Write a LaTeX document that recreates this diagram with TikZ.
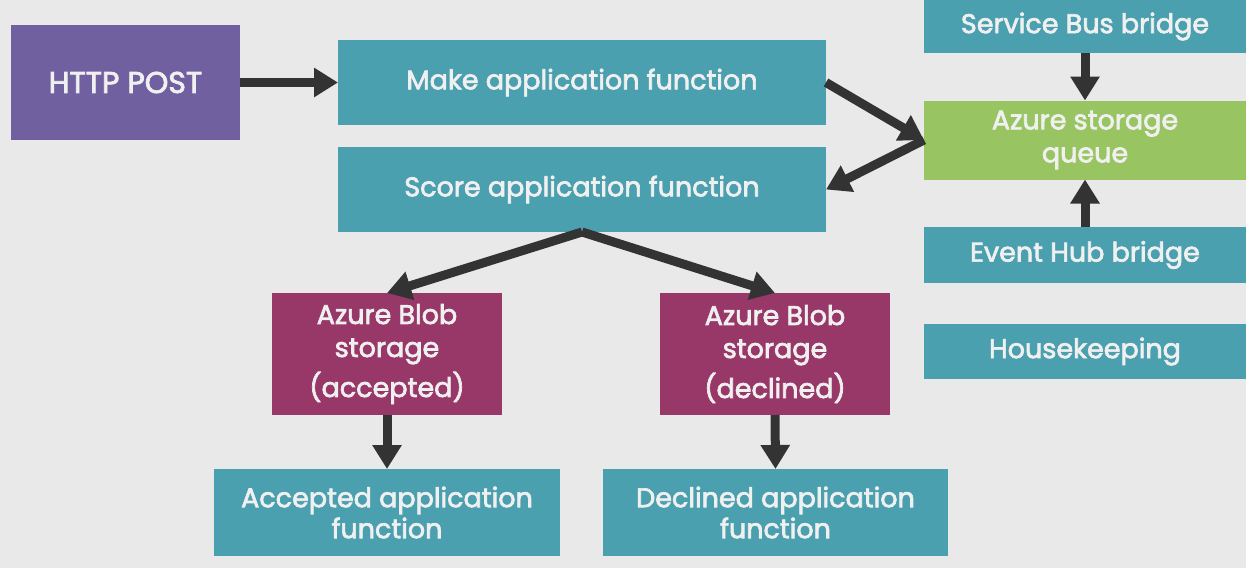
\documentclass[tikz,border=0pt]{standalone}
\usepackage{fontspec}
\setmainfont{Poppins}[FakeBold=2.5]
\usetikzlibrary{arrows.meta}
\definecolor{bg}{HTML}{E9E9E9}
\definecolor{teal}{HTML}{4AA0AF}
\definecolor{purp}{HTML}{7060A0}
\definecolor{mag}{HTML}{983868}
\definecolor{grn}{HTML}{98C462}
\definecolor{txt}{HTML}{F0F0F0}
\definecolor{arr}{HTML}{333333}
\tikzset{
  box/.style={rectangle, inner sep=0pt, outer sep=0pt, text=txt, align=center,
    font=\fontsize{27}{33}\selectfont},
  tealbox/.style={box, fill=teal},
  conn/.style={draw=arr, line width=9pt, -{Triangle[width=28pt,length=24pt]}},
}
\begin{document}
\begin{tikzpicture}[x=1pt,y=-1pt]
\fill[bg] (0,0) rectangle (1246,568);
\useasboundingbox (0,0) rectangle (1246,568);
\node[box, fill=purp, minimum width=229pt, minimum height=115pt, font=\fontsize{30}{33}\selectfont] (http) at (125.5,82.5) {HTTP POST};
\node[tealbox, minimum width=488pt, minimum height=85pt] (make) at (582,82.5) {Make application function};
\node[tealbox, minimum width=488pt, minimum height=85pt] (score) at (582,189.5) {Score application function};
\node[tealbox, minimum width=322pt, minimum height=53pt] (sb) at (1085,26.5) {Service Bus bridge};
\node[box, fill=grn, minimum width=322pt, minimum height=79pt] (queue) at (1085,140) {Azure storage\\queue};
\node[tealbox, minimum width=322pt, minimum height=56pt] (eh) at (1085,255) {Event Hub bridge};
\node[tealbox, minimum width=322pt, minimum height=55pt] (hk) at (1085,351.5) {Housekeeping};
\node[box, fill=mag, minimum width=230pt, minimum height=122pt] (blobA) at (387,354) {Azure Blob\\storage\\[7pt](accepted)};
\node[box, fill=mag, minimum width=230pt, minimum height=122pt] (blobD) at (775,354) {Azure Blob\\storage\\[7pt](declined)};
\node[tealbox, minimum width=346pt, minimum height=87pt, font=\fontsize{27}{31}\selectfont] (accfn) at (387,512.5) {Accepted application\\function};
\node[tealbox, minimum width=345pt, minimum height=87pt, font=\fontsize{27}{31}\selectfont] (decfn) at (775.5,512.5) {Declined application\\function};
\draw[conn] (http.east) -- (make.west);
\draw[conn] (make.east) -- (queue.west);
\draw[conn] (queue.west) -- (score.east);
\draw[conn] (sb.south) -- (queue.north);
\draw[conn] (eh.north) -- (queue.south);
\draw[conn] (score.south) -- (blobA.north);
\draw[conn] (score.south) -- (blobD.north);
\draw[conn] (blobA.south) -- (accfn.north);
\draw[conn] (blobD.south) -- (decfn.north);
\end{tikzpicture}
\end{document}
